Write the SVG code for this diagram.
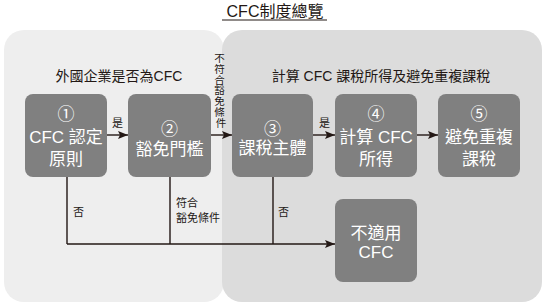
<svg xmlns="http://www.w3.org/2000/svg" width="550" height="305" viewBox="0 0 550 305">
  <defs>
    <style>
      text { font-family: "Liberation Sans", "Noto Sans CJK TC", sans-serif; fill: #231815; }
      .title { font-size: 16px; text-anchor: middle; }
      .section { font-size: 14px; text-anchor: middle; }
      .box { fill: #808080; }
      .box-text { font-size: 17px; fill: #ffffff; text-anchor: middle; }
      .label { font-size: 11px; }
      .vlabel { font-size: 10.5px; text-anchor: middle; }
      .conn { fill: none; stroke: #231815; stroke-width: 1.4; }
    </style>
    <marker id="arrow" viewBox="0 0 10 8" refX="10" refY="4" markerWidth="10" markerHeight="8" markerUnits="userSpaceOnUse" orient="auto">
      <path d="M0,0 L10,4 L0,8 L2,4 Z" fill="#231815"/>
    </marker>
  </defs>

  <!-- title -->
  <g id="title">
    <text class="title" x="275" y="17">CFC制度總覽</text>
    <line x1="222" y1="20" x2="327" y2="20" stroke="#231815" stroke-width="1.2"/>
  </g>

  <!-- background panels -->
  <g id="panel-left">
    <rect x="4" y="30" width="220" height="272" rx="20" fill="#eeeeee"/>
    <text class="section" x="119" y="81">外國企業是否為CFC</text>
  </g>
  <g id="panel-right">
    <rect x="222" y="30" width="320" height="272" rx="20" fill="#dcdcdc"/>
    <text class="section" x="381" y="81">計算 CFC 課稅所得及避免重複課稅</text>
  </g>

  <!-- connectors -->
  <g id="connectors">
    <line class="conn" x1="107" y1="135" x2="128" y2="135" marker-end="url(#arrow)"/>
    <line class="conn" x1="211" y1="135" x2="232" y2="135" marker-end="url(#arrow)"/>
    <line class="conn" x1="313" y1="135" x2="335" y2="135" marker-end="url(#arrow)"/>
    <line class="conn" x1="417" y1="135" x2="438" y2="135" marker-end="url(#arrow)"/>
    <path class="conn" d="M67,177 V244 M170,177 V244 M273,177 V244"/>
    <line class="conn" x1="67" y1="244" x2="335" y2="244" marker-end="url(#arrow)"/>

    <text class="label" x="112" y="127">是</text>
    <text class="label" x="319" y="127">是</text>
    <text class="vlabel" x="221" y="62">
      <tspan x="221" dy="0">不</tspan>
      <tspan x="221" dy="10.8">符</tspan>
      <tspan x="221" dy="10.8">合</tspan>
      <tspan x="221" dy="10.8">豁</tspan>
      <tspan x="221" dy="10.8">免</tspan>
      <tspan x="221" dy="10.8">條</tspan>
      <tspan x="221" dy="10.8">件</tspan>
    </text>
    <text class="label" x="73" y="216">否</text>
    <text class="label" x="176" y="207">符合</text>
    <text class="label" x="176" y="222">豁免條件</text>
    <text class="label" x="278" y="216">否</text>
  </g>

  <!-- nodes -->
  <g id="node-1">
    <rect class="box" x="25" y="94" width="82" height="83" rx="8"/>
    <text class="box-text" x="66" y="120">①</text>
    <text class="box-text" x="66" y="143">CFC 認定</text>
    <text class="box-text" x="66" y="164.5">原則</text>
  </g>
  <g id="node-2">
    <rect class="box" x="128" y="94" width="83" height="83" rx="8"/>
    <text class="box-text" x="169.5" y="134.5">②</text>
    <text class="box-text" x="169.5" y="154.5">豁免門檻</text>
  </g>
  <g id="node-3">
    <rect class="box" x="232" y="94" width="81" height="83" rx="8"/>
    <text class="box-text" x="272.5" y="134.5">③</text>
    <text class="box-text" x="272.5" y="154">課稅主體</text>
  </g>
  <g id="node-4">
    <rect class="box" x="335" y="94" width="82" height="83" rx="8"/>
    <text class="box-text" x="376" y="120">④</text>
    <text class="box-text" x="376" y="143">計算 CFC</text>
    <text class="box-text" x="376" y="164.5">所得</text>
  </g>
  <g id="node-5">
    <rect class="box" x="438" y="94" width="82" height="83" rx="8"/>
    <text class="box-text" x="479" y="120">⑤</text>
    <text class="box-text" x="479" y="143">避免重複</text>
    <text class="box-text" x="479" y="164.5">課稅</text>
  </g>
  <g id="node-na">
    <rect class="box" x="335" y="199" width="82" height="83" rx="8"/>
    <text class="box-text" x="376" y="239">不適用</text>
    <text class="box-text" x="376" y="258" font-size="15">CFC</text>
  </g>
</svg>
